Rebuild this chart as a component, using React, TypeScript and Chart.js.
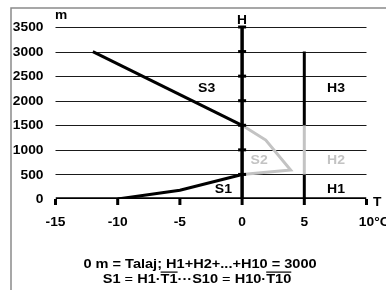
import React, { useEffect, useRef } from "react";
import { Chart, registerables } from "chart.js";
Chart.register(...registerables);

// Axis ticks
const yTicks = [0, 500, 1000, 1500, 2000, 2500, 3000, 3500];
const xTicks = [-15, -10, -5, 0, 5, 10];
const xTickLabels = ["-15", "-10", "-5", "0", "5", "10"];
const xUnit = "°C";

// Series (T in °C, H in m)
const s3T = [-12, 0];
const s3H = [3000, 1500];
const s2T = [0, 1.9, 3.9, 0];
const s2H = [1500, 1200, 590, 500];
const s1T = [-10, -5, 0];
const s1H = [0, 180, 500];
const hAxisT = [0, 0];
const hAxisH = [0, 3500];
const t5Upper = [3000, 1500];
const t5Mid = [1500, 500];
const t5Low = [500, 0];
const xAxisT = [-15, 10];

// Region labels
const regionText = ["S3", "H3", "S2", "H2", "S1", "H1"];
const regionT = [-2.85, 7.55, 1.37, 7.55, -1.5, 7.55];
const regionH = [2240, 2240, 775, 775, 185, 185];
const regionGray = [false, false, true, true, false, false];

const GRAY = "#c3c3c3";
const FONT = "'Liberation Sans', Arial, sans-serif";

const pts = (ts: number[], hs: number[]) => ts.map((t, i) => ({ x: t, y: hs[i] }));

function txt(ctx: any, s: string, x: number, y: number, align: string, sx: number) {
  ctx.save();
  ctx.translate(x, y);
  ctx.scale(sx, 1);
  ctx.textAlign = align;
  ctx.fillText(s, 0, 0);
  ctx.restore();
}

export default function App() {
  const ref = useRef<HTMLCanvasElement>(null);
  useEffect(() => {
    if (!ref.current) return;
    const line = (data: any[], color: string, width = 3) => ({
      data,
      borderColor: color,
      backgroundColor: color,
      borderWidth: width,
      pointRadius: 0,
      showLine: true,
      fill: false,
      tension: 0,
      borderCapStyle: "butt" as const,
      borderJoinStyle: "miter" as const,
    });
    const decor = {
      id: "decor",
      beforeDatasetsDraw(chart: any) {
        const { ctx } = chart;
        const xs = chart.scales.x;
        const ys = chart.scales.y;
        ctx.save();
        ctx.strokeStyle = "#8a8a8a";
        ctx.lineWidth = 1.5;
        ctx.beginPath();
        ctx.moveTo(11, 290);
        ctx.lineTo(11, 8);
        ctx.lineTo(386, 8);
        ctx.stroke();
        ctx.strokeStyle = "#1a1a1a";
        ctx.lineWidth = 1;
        const x0 = xs.getPixelForValue(xTicks[0]);
        const x1 = xs.getPixelForValue(xTicks[xTicks.length - 1]);
        yTicks.forEach((v) => {
          if (v === 0) return;
          const y = Math.round(ys.getPixelForValue(v)) + 0.5;
          ctx.beginPath();
          ctx.moveTo(x0, y);
          ctx.lineTo(x1, y);
          ctx.stroke();
        });
        ctx.restore();
      },
      afterDatasetsDraw(chart: any) {
        const { ctx } = chart;
        const xs = chart.scales.x;
        const ys = chart.scales.y;
        const y0 = ys.getPixelForValue(0);
        const xH = xs.getPixelForValue(0);
        ctx.save();
        ctx.fillStyle = "#000";
        yTicks.forEach((v) => {
          if (v === 0) return;
          const y = ys.getPixelForValue(v);
          ctx.fillRect(xH - 4, y - 1.5, 8, 3);
        });
        xTicks.forEach((v) => {
          const x = xs.getPixelForValue(v);
          ctx.fillRect(x - 1.5, y0, 3, 6);
        });
        ctx.font = `bold 13px ${FONT}`;
        ctx.textBaseline = "middle";
        const SX = 1.06;
        yTicks.forEach((v) => {
          txt(ctx, String(v), 43.5, ys.getPixelForValue(v) + 0.5, "right", SX);
        });
        xTickLabels.forEach((lab, i) => {
          const x = xs.getPixelForValue(xTicks[i]);
          txt(ctx, lab, x, 222, "center", SX);
          if (i === xTickLabels.length - 1) {
            const w = ctx.measureText(lab).width * SX;
            txt(ctx, xUnit, x + w / 2, 222, "left", SX);
          }
        });
        txt(ctx, "m", 55, 15, "left", SX);
        txt(ctx, "H", xH, 20, "center", SX);
        txt(ctx, "T", 373, 202, "left", SX);
        regionText.forEach((t, i) => {
          ctx.fillStyle = regionGray[i] ? GRAY : "#000";
          txt(ctx, t, xs.getPixelForValue(regionT[i]), ys.getPixelForValue(regionH[i]), "center", 1.08);
        });
        ctx.fillStyle = "#000";
        const FSX = 1.12;
        txt(ctx, "0 m = Talaj; H1+H2+...+H10 = 3000", 200, 264, "center", FSX);
        const parts: [string, boolean, boolean][] = [
          ["S1", true, false],
          [" = ", false, false],
          ["H1·", true, false],
          ["T1", true, true],
          ["···S10", true, false],
          [" = ", false, false],
          ["H10·", true, false],
          ["T10", true, true],
        ];
        let total = 0;
        parts.forEach(([s, b]) => {
          ctx.font = `${b ? "bold " : ""}13px ${FONT}`;
          total += ctx.measureText(s).width * FSX;
        });
        let x = 197 - total / 2;
        parts.forEach(([s, b, ov]) => {
          ctx.font = `${b ? "bold " : ""}13px ${FONT}`;
          const w = ctx.measureText(s).width * FSX;
          txt(ctx, s, x, 279, "left", FSX);
          if (ov) ctx.fillRect(x, 271.5, w, 1.2);
          x += w;
        });
        ctx.restore();
      },
    };
    const chart = new Chart(ref.current, {
      type: "scatter",
      data: {
        datasets: [
          line(pts(xAxisT, [0, 0]), "#000", 3.5),
          line(pts(hAxisT, hAxisH), "#000", 3.5),
          line(pts([5, 5], t5Upper), "#000", 3),
          line(pts([5, 5], t5Mid), GRAY, 3),
          line(pts([5, 5], t5Low), "#000", 3),
          line(pts(s2T, s2H), GRAY, 3),
          line(pts(s3T, s3H), "#000", 3),
          line(pts(s1T, s1H), "#000", 3),
        ],
      },
      options: {
        responsive: false,
        animation: false,
        devicePixelRatio: 1,
        layout: { padding: { left: 55.5, right: 19.5, top: 27, bottom: 91 } },
        plugins: { legend: { display: false }, tooltip: { enabled: false } },
        scales: {
          x: { type: "linear", min: -15, max: 10, display: false },
          y: { type: "linear", min: 0, max: 3500, display: false },
        },
      },
      plugins: [decor],
    });
    return () => chart.destroy();
  }, []);
  return (
    <div style={{ position: "fixed", left: 0, top: 0, width: 386, height: 290, background: "#fff" }}>
      <canvas ref={ref} width={386} height={290} />
    </div>
  );
}
